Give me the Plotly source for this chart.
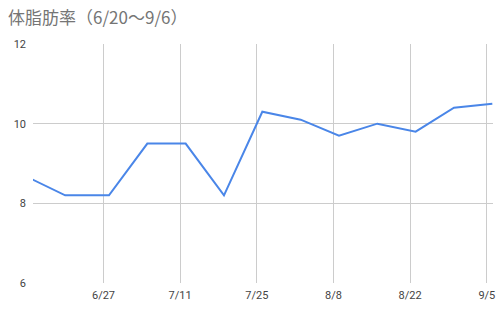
import plotly.graph_objects as go

dates = ["2023-06-14", "2023-06-20", "2023-06-28", "2023-07-05", "2023-07-12",
         "2023-07-19", "2023-07-26", "2023-08-02", "2023-08-09", "2023-08-16",
         "2023-08-23", "2023-08-30", "2023-09-06"]
body_fat = [8.6, 8.2, 8.2, 9.5, 9.5, 8.2, 10.3, 10.1, 9.7, 10.0, 9.8, 10.4, 10.5]
title_text = "体脂肪率（6/20〜9/6）"
y_ticks = [6, 8, 10, 12]

fig = go.Figure()
fig.add_trace(go.Scatter(x=dates, y=body_fat, mode="lines",
                         line=dict(color="#4a86e8", width=2), hoverinfo="skip"))

fig.update_layout(
    width=500, height=309,
    margin=dict(l=33, r=5, t=44, b=26),
    paper_bgcolor="white", plot_bgcolor="white",
    showlegend=False,
    title=dict(text=title_text, x=0.016, xanchor="left", y=0.94, yanchor="middle",
               font=dict(family="Noto Sans CJK JP, Roboto, sans-serif", size=17, color="#757575")),
    font=dict(family="Roboto, Arial, sans-serif", size=11, color="#444444"),
)
fig.update_xaxes(
    type="date",
    range=["2023-06-14 03:00", "2023-09-06 03:00"],
    tick0="2023-06-27", dtick=14 * 24 * 3600 * 1000,
    tickformat="%-m/%-d",
    showgrid=True, gridcolor="#cccccc", gridwidth=1,
    showline=False, zeroline=False, ticks="", ticklabelstandoff=4,
)
fig.update_yaxes(
    range=[6, 12], tickvals=y_ticks,
    showgrid=True, gridcolor="#cccccc", gridwidth=1,
    showline=False, zeroline=False, ticks="", ticklabelstandoff=6,
)
fig.write_html("out.html")
